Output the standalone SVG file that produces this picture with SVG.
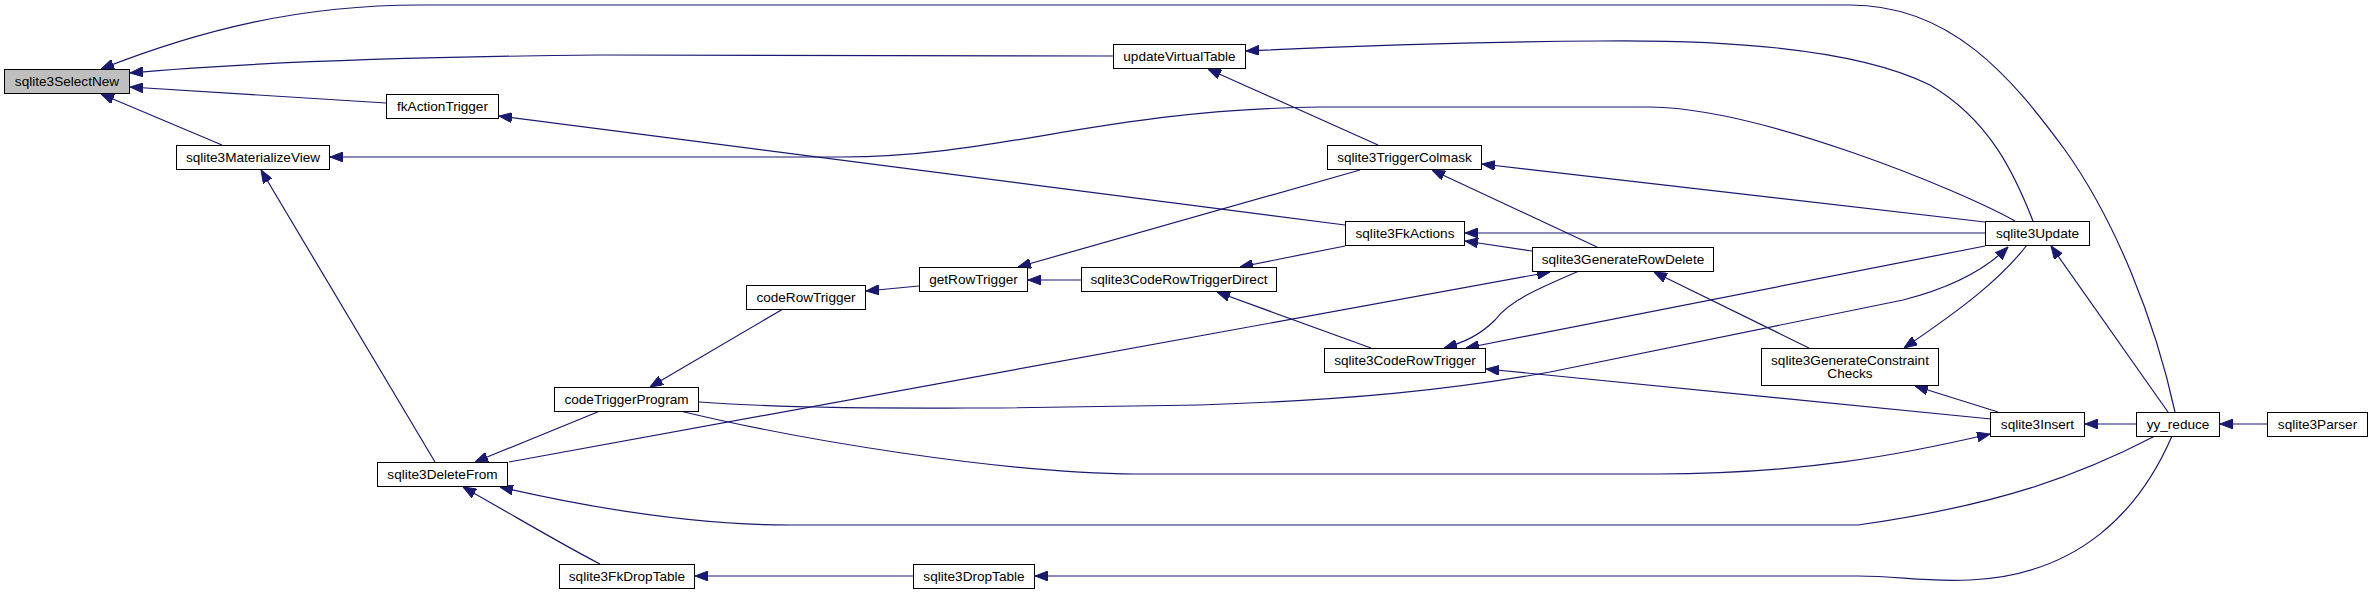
<svg xmlns="http://www.w3.org/2000/svg" width="2372" height="594" viewBox="0 0 2372 594">
<style>
.n rect{fill:#fff;stroke:#000;stroke-width:1}
.n text{font-family:"Liberation Sans",Arial,sans-serif;font-size:13.6px;fill:#000;text-anchor:middle}
#edges path{fill:none;stroke:#191970;stroke-width:1.2;marker-end:url(#ah)}
</style>
<defs>
<marker id="ah" viewBox="0 0 13 10" refX="13" refY="5" markerWidth="13" markerHeight="10" orient="auto" markerUnits="userSpaceOnUse">
<path d="M0,0 L13,5 L0,10 z" fill="#191970" stroke="#191970" stroke-width="1"/>
</marker>
</defs>
<rect width="2372" height="594" fill="#fff"/>
<g id="edges">
<path d="M2175,412 C2155,320 2115,220 2065,150 C2010,75 1950,5 1850,5 L420,5 C300,5 200,30 101,69"/>
<path d="M1113,56 L600,55 C400,57 250,62 130,73"/>
<path d="M386,103 L130,87"/>
<path d="M222,145 L101,94"/>
<path d="M435,462 L261,170"/>
<path d="M2015,221 C1960,190 1760,108 1650,107 L1320,107 C1100,110 1000,157 841,157 L330,157"/>
<path d="M1345,225 L499,116"/>
<path d="M2033,221 C2015,175 1990,120 1930,85 C1850,45 1700,40 1600,41 C1450,42 1350,46 1246,51"/>
<path d="M1378,145 L1208,69"/>
<path d="M1360,170 L1018,267"/>
<path d="M1985,222 L1482,164"/>
<path d="M1597,247 L1432,170"/>
<path d="M1985,233 L1465,233"/>
<path d="M1532,251 L1465,241"/>
<path d="M1345,246 L1240,267"/>
<path d="M1081,280 L1028,280"/>
<path d="M919,286 L866,291"/>
<path d="M783,309 L650,387"/>
<path d="M600,411 L475,462"/>
<path d="M1371,348 L1217,292"/>
<path d="M1579,271 C1540,288 1510,300 1495,320 C1480,335 1465,342 1444,348"/>
<path d="M509,462 L1550,272"/>
<path d="M1985,246 L1466,348"/>
<path d="M1809,348 L1654,272"/>
<path d="M2027,245 C2000,280 1960,310 1904,348"/>
<path d="M699,402 C800,409 900,408 1000,408 L1200,405 C1350,400 1450,390 1550,372 L1903,300 C1950,288 1985,270 2008,247"/>
<path d="M1991,419 L1486,369"/>
<path d="M1998,412 L1915,386"/>
<path d="M680,411 C800,440 1000,473 1136,474 L1657,474 C1800,474 1900,455 1990,434"/>
<path d="M2155,436 C2080,475 2000,505 1858,525 L790,525 C700,525 600,510 500,487"/>
<path d="M2172,436 C2140,510 2080,575 1970,580 C1920,582 1900,576 1858,576 L1035,576"/>
<path d="M913,576 L695,576"/>
<path d="M600,564 C565,546 530,525 463,487"/>
<path d="M2168,412 L2051,246"/>
<path d="M2136,424 L2085,424"/>
<path d="M2267,424 L2220,424"/>
</g>
<g id="n_sqlite3SelectNew" class="n"><rect x="4.5" y="69.5" width="125" height="24" style="fill:#bfbfbf"/><text x="67" y="85.5">sqlite3SelectNew</text></g>
<g id="n_fkActionTrigger" class="n"><rect x="386.5" y="94.5" width="112" height="24"/><text x="442.5" y="110.5">fkActionTrigger</text></g>
<g id="n_sqlite3MaterializeView" class="n"><rect x="176.5" y="145.5" width="153" height="24"/><text x="253" y="161.5">sqlite3MaterializeView</text></g>
<g id="n_updateVirtualTable" class="n"><rect x="1113.5" y="44.5" width="132" height="24"/><text x="1179.5" y="60.5">updateVirtualTable</text></g>
<g id="n_sqlite3TriggerColmask" class="n"><rect x="1327.5" y="145.5" width="154" height="24"/><text x="1404.5" y="161.5">sqlite3TriggerColmask</text></g>
<g id="n_sqlite3FkActions" class="n"><rect x="1345.5" y="221.5" width="119" height="24"/><text x="1405" y="237.5">sqlite3FkActions</text></g>
<g id="n_sqlite3GenerateRowDelete" class="n"><rect x="1532.5" y="247.5" width="181" height="24"/><text x="1623" y="263.5">sqlite3GenerateRowDelete</text></g>
<g id="n_getRowTrigger" class="n"><rect x="919.5" y="267.5" width="108" height="24"/><text x="973.5" y="283.5">getRowTrigger</text></g>
<g id="n_sqlite3CodeRowTriggerDirect" class="n"><rect x="1081.5" y="267.5" width="195" height="24"/><text x="1179" y="283.5">sqlite3CodeRowTriggerDirect</text></g>
<g id="n_codeRowTrigger" class="n"><rect x="746.5" y="285.5" width="119" height="24"/><text x="806" y="301.5">codeRowTrigger</text></g>
<g id="n_sqlite3CodeRowTrigger" class="n"><rect x="1324.5" y="348.5" width="161" height="24"/><text x="1405" y="364.5">sqlite3CodeRowTrigger</text></g>
<g id="n_sqlite3GenerateConstraintChecks" class="n"><rect x="1761.5" y="348.5" width="177" height="37"/><text x="1850" y="364.5">sqlite3GenerateConstraint</text><text x="1850" y="378">Checks</text></g>
<g id="n_codeTriggerProgram" class="n"><rect x="554.5" y="387.5" width="144" height="24"/><text x="626.5" y="403.5">codeTriggerProgram</text></g>
<g id="n_sqlite3DeleteFrom" class="n"><rect x="377.5" y="462.5" width="130" height="24"/><text x="442.5" y="478.5">sqlite3DeleteFrom</text></g>
<g id="n_sqlite3FkDropTable" class="n"><rect x="559.5" y="564.5" width="135" height="24"/><text x="627" y="580.5">sqlite3FkDropTable</text></g>
<g id="n_sqlite3DropTable" class="n"><rect x="913.5" y="564.5" width="121" height="24"/><text x="974" y="580.5">sqlite3DropTable</text></g>
<g id="n_sqlite3Update" class="n"><rect x="1985.5" y="221.5" width="104" height="24"/><text x="2037.5" y="237.5">sqlite3Update</text></g>
<g id="n_sqlite3Insert" class="n"><rect x="1990.5" y="412.5" width="94" height="24"/><text x="2037.5" y="428.5">sqlite3Insert</text></g>
<g id="n_yy_reduce" class="n"><rect x="2136.5" y="412.5" width="83" height="24"/><text x="2178" y="428.5">yy_reduce</text></g>
<g id="n_sqlite3Parser" class="n"><rect x="2267.5" y="412.5" width="100" height="24"/><text x="2317.5" y="428.5">sqlite3Parser</text></g>
</svg>
